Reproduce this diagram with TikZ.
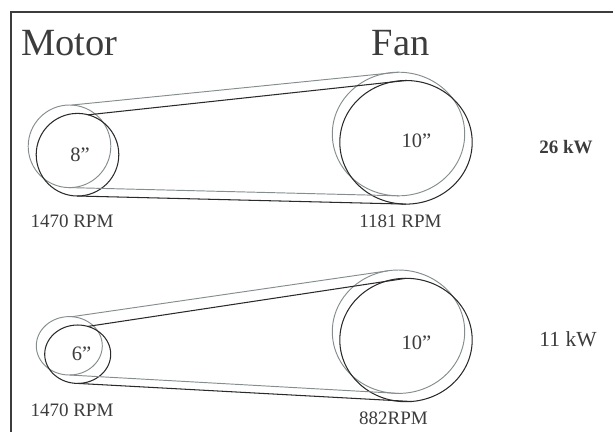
\documentclass[tikz,border=0pt]{standalone}
\usepackage{fontspec}
\setmainfont{Liberation Serif}
\definecolor{ink}{HTML}{3C3C3C}
\definecolor{beltgray}{HTML}{858D8F}
\definecolor{beltblack}{HTML}{2A2A2A}
\tikzset{
  x=1pt,y=-1pt,
  lab/.style={inner sep=0pt,text=ink,font=\fontsize{19}{21}\selectfont},
  dia/.style={inner sep=0pt,text=ink,font=\fontsize{20.5}{22}\selectfont},
  head/.style={inner sep=0pt,text=ink,font=\fontsize{38.5}{40}\selectfont},
  pulley/.style={draw=none,ellipse,inner sep=0pt,outer sep=0pt,minimum width=#1},
  gr/.style={draw=beltgray,line width=0.95pt},
  bk/.style={draw=beltblack,line width=1.05pt},
}
\usetikzlibrary{shapes.geometric}
\begin{document}
\begin{tikzpicture}
\useasboundingbox (0,0) rectangle (613,432);
\draw[ink,line width=2pt] (11,432) -- (11,12) -- (613,12);

% top pair
\node[pulley=82.6pt,minimum height=82.6pt,gr] (mg1) at (69.5,146.3) {};
\node[pulley=82.6pt,minimum height=82.6pt,bk] (mb1) at (77.5,154.7) {};
\node[pulley=132.4pt,minimum height=123.6pt,gr] (fg1) at (398.5,134) {};
\node[pulley=132.4pt,minimum height=123.6pt,bk] (fb1) at (406,142.3) {};
\draw[gr] (mg1.87) -- (fg1.90);
\draw[gr] (mg1.-90) -- (fg1.-90);
\draw[bk] (mb1.75) -- (fb1.90);
\draw[bk] (mb1.-90) -- (fb1.-90);

% bottom pair
\node[pulley=66pt,minimum height=58.4pt,gr] (mg2) at (69.3,345.8) {};
\node[pulley=66pt,minimum height=58.4pt,bk] (mb2) at (77.7,354.2) {};
\node[pulley=132.4pt,minimum height=123.4pt,gr] (fg2) at (398.5,331.7) {};
\node[pulley=132.4pt,minimum height=123.4pt,bk] (fb2) at (406,340) {};
\draw[gr] (mg2.85) -- (fg2.100);
\draw[gr] (mg2.-90) -- (fg2.-90);
\draw[bk] (mb2.70) -- (fb2.90);
\draw[bk] (mb2.-90) -- (fb2.-85);

% text
\node[head] (tm) at (69.5,43) {Motor};
\node[head] (tf) at (400.5,43) {Fan};
\node[dia] (d1) at (80,155) {8”};
\node[dia] (d2) at (416.5,141) {10”};
\node[lab] (r1) at (72,221) {1470 RPM};
\node[lab] (r2) at (400.5,221) {1181 RPM};
\node[lab,font=\fontsize{19}{21}\selectfont\bfseries] (p1) at (566,147) {26 kW};
\node[dia] (d3) at (81.5,354) {6”};
\node[dia] (d4) at (416.5,343) {10”};
\node[lab] (r3) at (72,410.5) {1470 RPM};
\node[lab] (r4) at (393.5,418.5) {882RPM};
\node[lab,font=\fontsize{21.5}{23}\selectfont] (p2) at (568,339) {11 kW};
\end{tikzpicture}
\end{document}
